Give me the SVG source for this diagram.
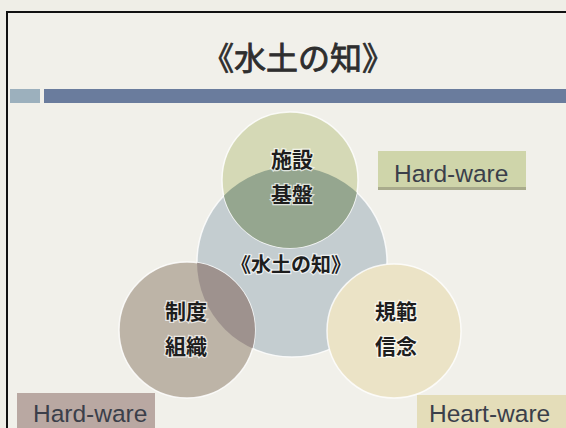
<svg xmlns="http://www.w3.org/2000/svg" width="566" height="428" viewBox="0 0 566 428">
<style>
.lbl{font-family:"Noto Sans CJK JP","Noto Sans CJK SC",sans-serif;font-weight:bold;font-size:21px;fill:#1e1e1e;text-anchor:middle;stroke:#ffffff;stroke-width:2.5;stroke-opacity:0.7;paint-order:stroke}
.tag{font-family:"Liberation Sans",Arial,sans-serif;font-size:24.5px;fill:#3b3f4a}
.circ{stroke:#ffffff;stroke-width:1.5;stroke-opacity:0.8}
</style>
<defs>
<clipPath id="clipCenter"><circle cx="292" cy="262" r="95"/></clipPath>
</defs>
<rect x="0" y="0" width="566" height="428" fill="#efeee7"/>
<rect x="7" y="12" width="600" height="460" fill="#f1f0ea" stroke="#111" stroke-width="2"/>
<text x="298" y="70" font-family="Noto Sans CJK JP,Noto Sans CJK SC,sans-serif" font-size="32" fill="#2e2e2e" stroke="#2e2e2e" stroke-width="0.8" text-anchor="middle">《水土の知》</text>
<rect x="10" y="89" width="30" height="14" fill="#9cb0bd"/>
<rect x="44" y="89" width="530" height="14" fill="#6a7c9d"/>

<g id="node-center">
<circle class="circ" cx="292" cy="262" r="95" fill="#c4cdd0"/>
</g>
<g id="node-top">
<circle class="circ" cx="290" cy="180" r="68" fill="#d5d9b6"/>
<circle cx="290" cy="180" r="68" fill="#95a68f" clip-path="url(#clipCenter)"/>
<text class="lbl" x="292" y="167">施設</text>
<text class="lbl" x="292" y="202">基盤</text>
</g>
<g id="node-center-label">
<text class="lbl" x="291" y="272" style="font-size:20px">《水土の知》</text>
</g>
<g id="node-left">
<circle class="circ" cx="187" cy="330" r="68" fill="#bdb4a7"/>
<circle cx="187" cy="330" r="68" fill="#9e928e" clip-path="url(#clipCenter)"/>
<text class="lbl" x="186" y="319">制度</text>
<text class="lbl" x="186" y="354">組織</text>
</g>
<g id="node-right">
<circle class="circ" cx="394" cy="331" r="67" fill="#ebe3c6"/>
<text class="lbl" x="396" y="319">規範</text>
<text class="lbl" x="396" y="354">信念</text>
</g>
<g id="tag-top">
<rect x="378" y="152" width="148" height="38" fill="#a9ab8c"/>
<rect x="378" y="151" width="148" height="36" fill="#cfd5aa"/>
<text class="tag" x="394" y="182">Hard-ware</text>
</g>
<g id="tag-left">
<rect x="17" y="393" width="138" height="40" fill="#b9a8a2"/>
<text class="tag" x="33" y="422">Hard-ware</text>
</g>
<g id="tag-right">
<rect x="417" y="395" width="160" height="40" fill="#e4ddb9"/>
<text class="tag" x="429" y="422">Heart-ware</text>
</g>
</svg>
